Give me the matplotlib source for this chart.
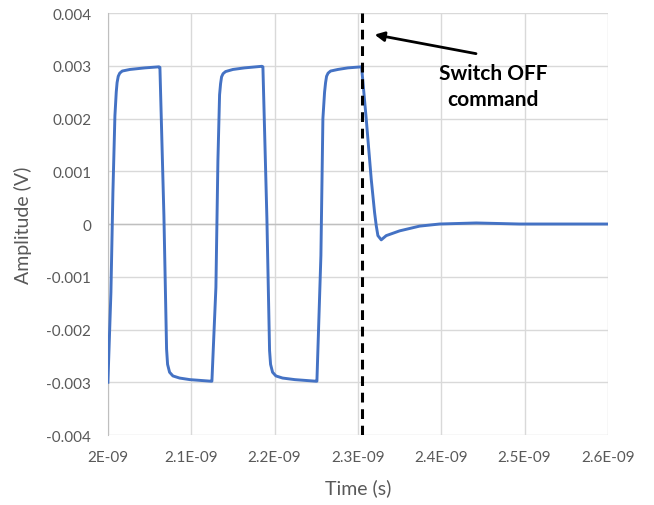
import matplotlib
matplotlib.use("Agg")
import matplotlib.pyplot as plt

# waveform (time in ns, amplitude in V)
time_ns = [2.0000, 2.0036, 2.0060, 2.0084, 2.0100, 2.0110, 2.0124, 2.0142, 2.0172, 2.0264, 2.0444, 2.0612,
           2.0624, 2.0672, 2.0704, 2.0716, 2.0740, 2.0780, 2.0860, 2.0984, 2.1236,
           2.1248, 2.1296, 2.1320, 2.1340, 2.1352, 2.1364, 2.1382, 2.1412, 2.1500, 2.1640, 2.1848,
           2.1860, 2.1908, 2.1940, 2.1952, 2.1976, 2.2016, 2.2096, 2.2244, 2.2496,
           2.2508, 2.2556, 2.2580, 2.2600, 2.2612, 2.2624, 2.2642, 2.2672, 2.2760, 2.2880, 2.3044,
           2.3100, 2.3160, 2.3200, 2.3220, 2.3240, 2.3280, 2.3340, 2.3500,
           2.3740, 2.3980, 2.4420, 2.4940, 2.6000]
amp_v = [-0.00300, -0.00130, 0.00060, 0.00205, 0.00250, 0.00268, 0.00280, 0.00286, 0.00290, 0.00293, 0.00296, 0.00298,
         0.00297, 0.00016, -0.00237, -0.00266, -0.00281, -0.00288, -0.00292, -0.00295, -0.00298,
         -0.00298, -0.00120, 0.00120, 0.00245, 0.00266, 0.00279, 0.00285, 0.00289, 0.00293, 0.00296, 0.00299,
         0.00298, 0.00010, -0.00240, -0.00266, -0.00281, -0.00288, -0.00292, -0.00295, -0.00298,
         -0.00298, -0.00060, 0.00200, 0.00250, 0.00268, 0.00280, 0.00286, 0.00290, 0.00293, 0.00296, 0.00298,
         0.00199, 0.00085, 0.00022, -0.00003, -0.00022, -0.00030, -0.00022, -0.00013,
         -0.00004, 0.00000, 0.00002, 0.00000, 0.00000]

x_ticks_ns = [2.0, 2.1, 2.2, 2.3, 2.4, 2.5, 2.6]
x_labels = ["2E-09", "2.1E-09", "2.2E-09", "2.3E-09", "2.4E-09", "2.5E-09", "2.6E-09"]
y_ticks = [-0.004, -0.003, -0.002, -0.001, 0, 0.001, 0.002, 0.003, 0.004]
y_labels = ["-0.004", "-0.003", "-0.002", "-0.001", "0", "0.001", "0.002", "0.003", "0.004"]

switch_off_ns = 2.3048

plt.rcParams['font.family'] = ['Lato', 'DejaVu Sans']

fig = plt.figure(figsize=(6.54, 5.06), dpi=100)
ax = fig.add_axes([0.165, 0.1383, 0.7645, 0.834])

t = [v * 1e-9 for v in time_ns]
ax.plot(t, amp_v, color="#4472C4", lw=2.1, solid_joinstyle="round", zorder=3)

ax.axvline(switch_off_ns * 1e-9, color="black", lw=2.2, ls=(0, (3.2, 2.2)), zorder=4)
ax.axhline(0, color="#bfbfbf", lw=1.0, zorder=1)

ax.set_xlim(2.0e-9, 2.6e-9)
ax.set_ylim(-0.004, 0.004)
ax.set_xticks([v * 1e-9 for v in x_ticks_ns])
ax.set_xticklabels(x_labels)
ax.set_yticks(y_ticks)
ax.set_yticklabels(y_labels)
ax.tick_params(axis="both", length=0, labelsize=11, colors="#595959")
ax.tick_params(axis="x", pad=11)
ax.tick_params(axis="y", pad=12)
ax.grid(True, color="#d9d9d9", lw=1.0, zorder=0)
ax.set_axisbelow(True)
for s in ["top", "right", "bottom"]:
    ax.spines[s].set_visible(False)
ax.spines["left"].set_color("#bfbfbf")

ax.set_xlabel("Time (s)", fontsize=14, color="#595959", labelpad=10)
ax.set_ylabel("Amplitude (V)", fontsize=14, color="#595959", labelpad=10)

ax.annotate("", xy=(2.3168e-9, 0.0036), xytext=(2.4450e-9, 0.00322),
            arrowprops=dict(arrowstyle="-|>", color="black", lw=2.0,
                            mutation_scale=14))
ax.text(2.4620e-9, 0.00262, "Switch OFF\ncommand", ha="center", va="center",
        fontsize=15, fontweight="bold", color="black", linespacing=1.4)

fig.savefig("out.png", dpi=100)
